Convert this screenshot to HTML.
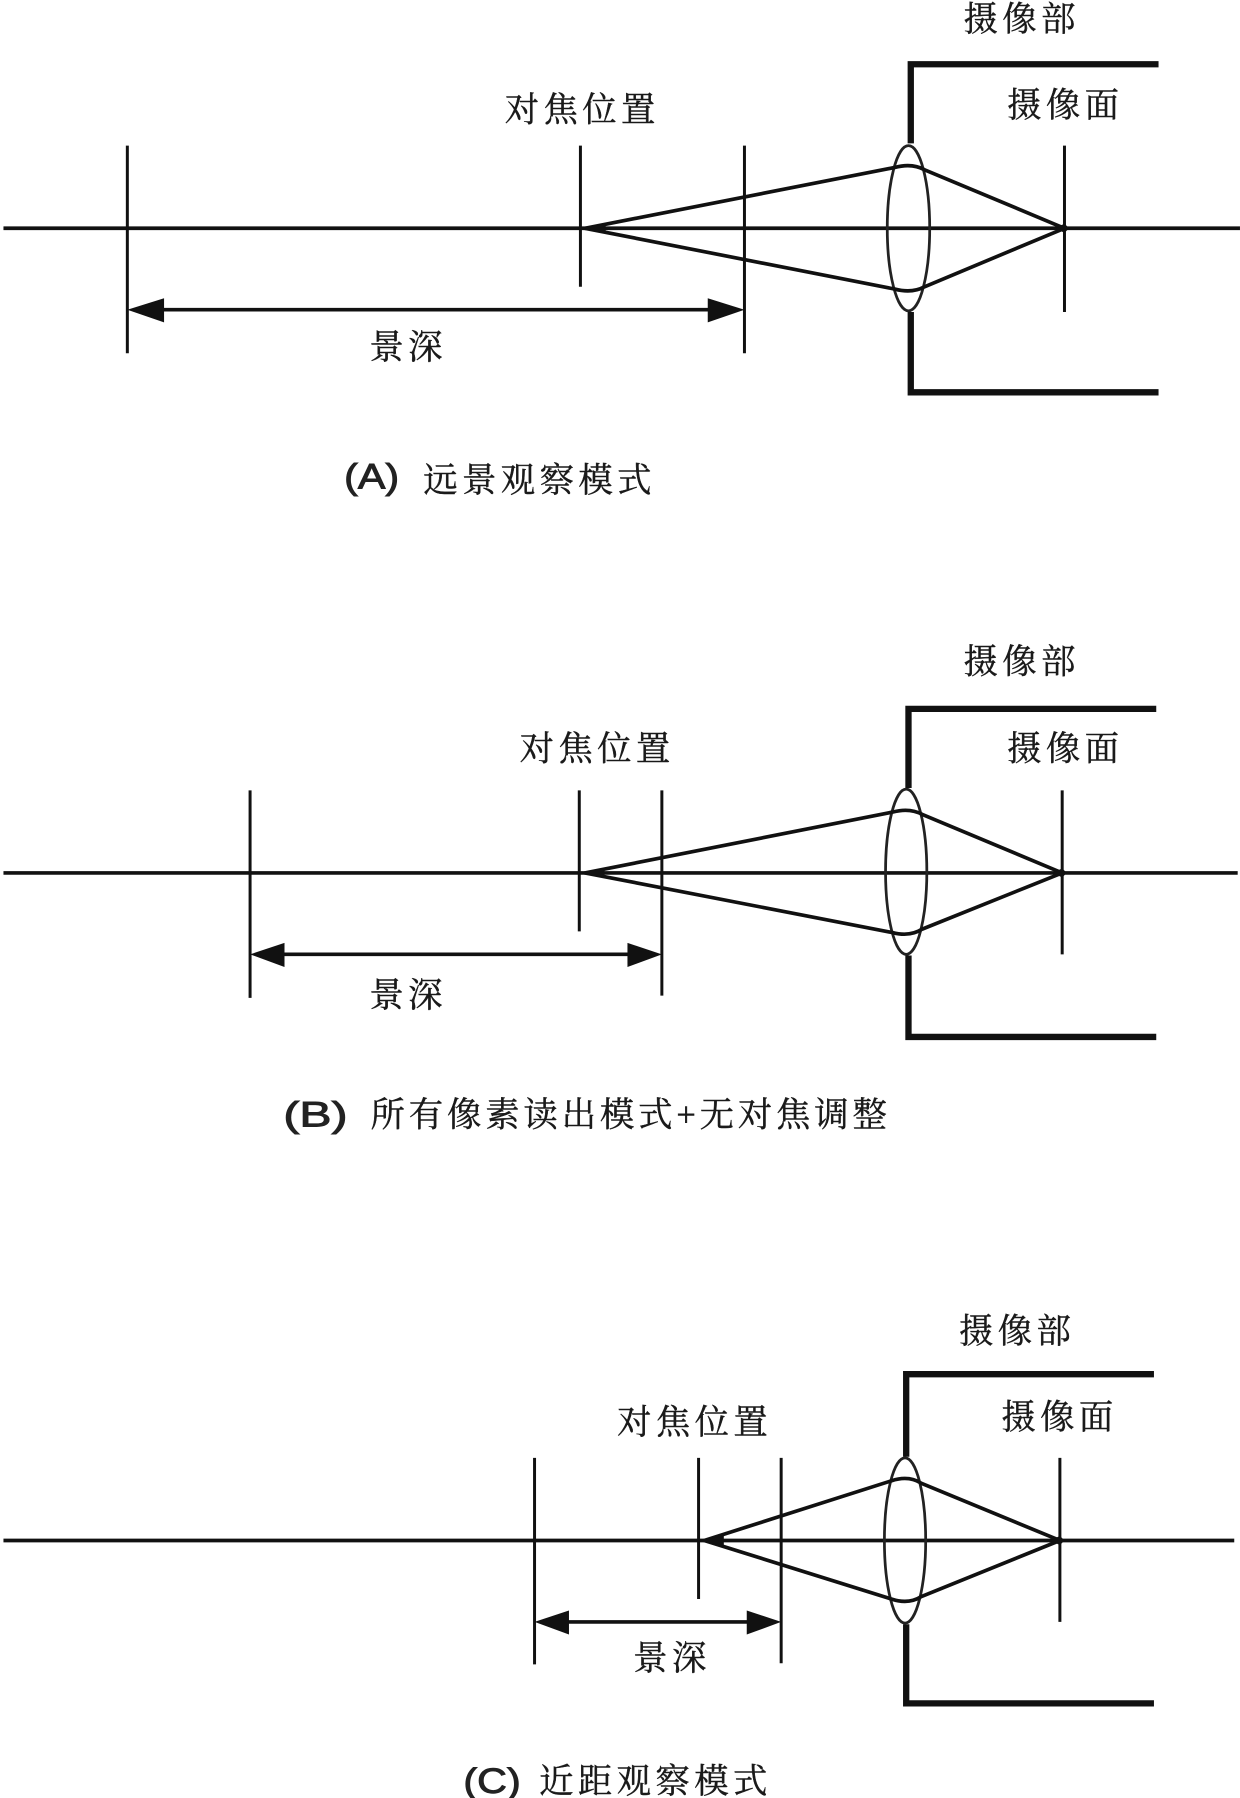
<!DOCTYPE html>
<html lang="zh">
<head>
<meta charset="utf-8">
<style>
html,body{margin:0;padding:0;background:#fff}
svg{display:block}
text{font-family:"Liberation Serif","Noto Serif CJK SC",serif;font-size:30px;letter-spacing:3.8px;fill:#1a1a1a;stroke:#1a1a1a;stroke-width:.35}
text.s{font-family:"Liberation Sans","Noto Sans CJK SC",sans-serif;letter-spacing:0;font-size:31px;fill:#222;stroke:#222;stroke-width:.8}
.t{stroke:#111;stroke-width:2.6;fill:none}
.r{stroke:#111;stroke-width:3.2;fill:none;stroke-linejoin:round}
.h{stroke:#111;stroke-width:5.5;fill:none;stroke-linejoin:miter}
.a{stroke:#111;stroke-width:3.2;fill:none}
.l{stroke:#222;stroke-width:2.4;fill:none}
</style>
</head>
<body>
<svg width="1240" height="1798" viewBox="0 0 1081 1567.5" xmlns="http://www.w3.org/2000/svg">
<rect width="1081" height="1568" fill="#fff"/>

<!-- Panel A -->
<g>
<line class="a" x1="3" y1="199" x2="1081" y2="199"/>
<line class="t" x1="111" y1="127" x2="111" y2="308"/>
<line class="t" x1="506" y1="127" x2="506" y2="250"/>
<line class="t" x1="649" y1="127" x2="649" y2="308"/>
<line class="t" x1="928" y1="127" x2="928" y2="272"/>
<ellipse class="l" cx="792" cy="199" rx="18.5" ry="72"/>
<path class="r" d="M510 199L780 146Q795 142 806 148L928 199L806 250Q795 256 780 252Z"/>
<polygon points="508,199 528,195 528,203" fill="#111"/>
<polygon points="920,199 928,195 932,199 928,203" fill="#111"/>
<path class="h" d="M1010 56H794V125M794 272V342H1010"/>
<line class="a" x1="135" y1="270" x2="625" y2="270"/>
<polygon points="111,270 143,260 143,281" fill="#111"/>
<polygon points="649,270 617,260 617,281" fill="#111"/>
<text x="840" y="27">摄像部</text>
<text x="878" y="102">摄像面</text>
<text x="440" y="106">对焦位置</text>
<text x="322" y="313">景深</text>
<text class="s" x="300" y="426" textLength="48" lengthAdjust="spacingAndGlyphs">(A)</text>
<text x="369" y="429">远景观察模式</text>
</g>

<!-- Panel B -->
<g>
<line class="a" x1="3" y1="761" x2="1079" y2="761"/>
<line class="t" x1="218" y1="689" x2="218" y2="870"/>
<line class="t" x1="505" y1="689" x2="505" y2="812"/>
<line class="t" x1="577" y1="689" x2="577" y2="868"/>
<line class="t" x1="926" y1="689" x2="926" y2="832"/>
<ellipse class="l" cx="790" cy="760" rx="18" ry="72"/>
<path class="r" d="M510 761L778 708Q793 704 804 710L926 761L804 810Q793 817 778 813Z"/>
<polygon points="507,761 527,757 527,765" fill="#111"/>
<polygon points="918,761 926,757 930,761 926,765" fill="#111"/>
<path class="h" d="M1008 618H792V687M792 833V904H1008"/>
<line class="a" x1="240" y1="832" x2="555" y2="832"/>
<polygon points="218,832 248,822 248,843" fill="#111"/>
<polygon points="577,832 547,822 547,843" fill="#111"/>
<text x="840" y="587">摄像部</text>
<text x="878" y="663">摄像面</text>
<text x="453" y="663">对焦位置</text>
<text x="322" y="878">景深</text>
<text class="s" x="247" y="982" textLength="56" lengthAdjust="spacingAndGlyphs">(B)</text>
<text x="323" y="982" textLength="454" lengthAdjust="spacing">所有像素读出模式+无对焦调整</text>
</g>

<!-- Panel C -->
<g>
<line class="a" x1="3" y1="1343" x2="1076" y2="1343"/>
<line class="t" x1="466" y1="1271" x2="466" y2="1451"/>
<line class="t" x1="609" y1="1271" x2="609" y2="1394"/>
<line class="t" x1="681" y1="1271" x2="681" y2="1450"/>
<line class="t" x1="924" y1="1271" x2="924" y2="1414"/>
<ellipse class="l" cx="789" cy="1343" rx="18" ry="72"/>
<path class="r" d="M614 1343L777 1291Q792 1286 803 1293L924 1343L803 1392Q792 1399 777 1394Z"/>
<polygon points="611,1343 631,1339 631,1347" fill="#111"/>
<polygon points="916,1343 924,1339 928,1343 924,1347" fill="#111"/>
<path class="h" d="M1006 1198H790V1270M790 1416V1485H1006"/>
<line class="a" x1="488" y1="1414" x2="659" y2="1414"/>
<polygon points="466,1414 496,1404 496,1425" fill="#111"/>
<polygon points="681,1414 651,1404 651,1425" fill="#111"/>
<text x="836" y="1171">摄像部</text>
<text x="873" y="1246">摄像面</text>
<text x="538" y="1250">对焦位置</text>
<text x="552" y="1456">景深</text>
<text class="s" x="404" y="1563" textLength="50" lengthAdjust="spacingAndGlyphs">(C)</text>
<text x="470" y="1563">近距观察模式</text>
</g>
</svg>
</body>
</html>
